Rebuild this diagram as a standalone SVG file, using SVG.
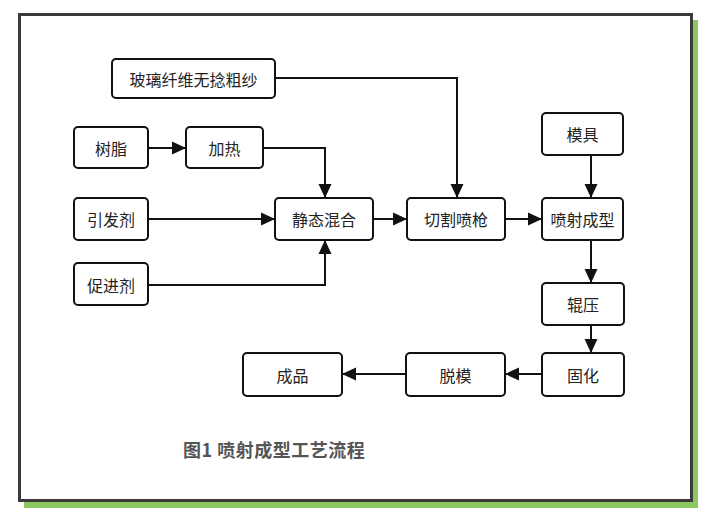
<svg xmlns="http://www.w3.org/2000/svg" width="710" height="515" viewBox="0 0 710 515">
<style>
.box{fill:#fff;stroke:#111;stroke-width:2}
.lbl{font-family:"Noto Sans CJK SC","Liberation Sans",sans-serif;font-size:16px;fill:#222;text-anchor:middle;dominant-baseline:central}
.cn{fill:none;stroke:#111;stroke-width:2;marker-end:url(#ah)}
.cap{font-family:"Noto Sans CJK SC","Liberation Sans",sans-serif;font-size:18px;font-weight:bold;fill:#555;letter-spacing:0.5px}
</style>
<defs>
<marker id="ah" markerUnits="userSpaceOnUse" markerWidth="15" markerHeight="15" viewBox="0 0 15 15" refX="14" refY="7.5" orient="auto">
<path d="M0,1 L14,7.5 L0,14 Z" fill="#111"/>
</marker>
</defs>
<rect x="24" y="20" width="674" height="488" fill="#8cc862"/>
<rect x="19.5" y="14.5" width="672" height="486" fill="#fff" stroke="#3a3a3a" stroke-width="3"/>

<g id="connectors">
<path class="cn" d="M275,78 H457 V198"/>
<path class="cn" d="M148,148 H186"/>
<path class="cn" d="M263,148 H325 V198"/>
<path class="cn" d="M148,219 H275"/>
<path class="cn" d="M148,285 H325 V240"/>
<path class="cn" d="M373,219 H407"/>
<path class="cn" d="M505,219 H542"/>
<path class="cn" d="M591,155 V198"/>
<path class="cn" d="M591,240 V283"/>
<path class="cn" d="M591,325 V353"/>
<path class="cn" d="M542,374 H505"/>
<path class="cn" d="M406,374 H342"/>
</g>

<g id="n-glass"><rect class="box" x="112" y="59" width="163" height="39" rx="4"/><text class="lbl" x="193.5" y="79">玻璃纤维无捻粗纱</text></g>
<g id="n-resin"><rect class="box" x="74" y="127" width="74" height="41" rx="4"/><text class="lbl" x="111" y="148">树脂</text></g>
<g id="n-heat"><rect class="box" x="186" y="127" width="77" height="41" rx="4"/><text class="lbl" x="224.5" y="148">加热</text></g>
<g id="n-init"><rect class="box" x="74" y="198" width="74" height="42" rx="4"/><text class="lbl" x="111" y="219">引发剂</text></g>
<g id="n-mix"><rect class="box" x="275" y="198" width="98" height="42" rx="4"/><text class="lbl" x="324" y="219">静态混合</text></g>
<g id="n-gun"><rect class="box" x="407" y="198" width="98" height="42" rx="4"/><text class="lbl" x="456" y="219">切割喷枪</text></g>
<g id="n-spray"><rect class="box" x="542" y="198" width="81" height="42" rx="4"/><text class="lbl" x="582.5" y="219">喷射成型</text></g>
<g id="n-mold"><rect class="box" x="542" y="113" width="81" height="42" rx="4"/><text class="lbl" x="582.5" y="134">模具</text></g>
<g id="n-acc"><rect class="box" x="74" y="263" width="74" height="42" rx="4"/><text class="lbl" x="111" y="285">促进剂</text></g>
<g id="n-roll"><rect class="box" x="542" y="283" width="82" height="42" rx="4"/><text class="lbl" x="583" y="304">辊压</text></g>
<g id="n-cure"><rect class="box" x="542" y="353" width="82" height="43" rx="4"/><text class="lbl" x="583" y="374.5">固化</text></g>
<g id="n-demold"><rect class="box" x="406" y="353" width="99" height="43" rx="4"/><text class="lbl" x="455.5" y="374.5">脱模</text></g>
<g id="n-product"><rect class="box" x="243" y="353" width="99" height="43" rx="4"/><text class="lbl" x="292.5" y="374.5">成品</text></g>

<text class="cap" x="183" y="457">图1 喷射成型工艺流程</text>
</svg>
